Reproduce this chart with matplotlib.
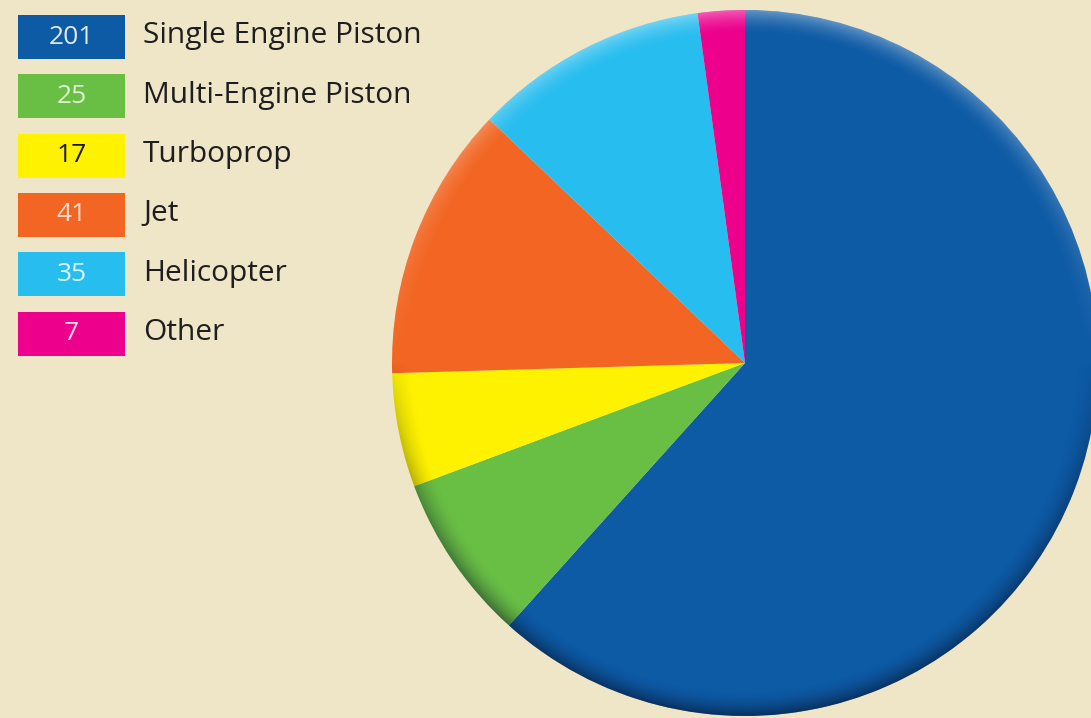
import matplotlib
matplotlib.use("Agg")
import matplotlib.pyplot as plt
from matplotlib.patches import Rectangle, Circle
import numpy as np

categories = ["Single Engine Piston", "Multi-Engine Piston", "Turboprop", "Jet", "Helicopter", "Other"]
values = [201, 25, 17, 41, 35, 7]
colors = ["#0d5aa5", "#69be44", "#fff200", "#f26522", "#28bdef", "#ec008c"]
number_colors = ["#dfe9f5", "#dff2d6", "#1a1a1a", "#fde2d4", "#dff4fc", "#fbd9ec"]

BG = "#efe6c8"
W, H = 1091, 718

fig = plt.figure(figsize=(W / 100, H / 100), dpi=100, facecolor=BG)
ax = fig.add_axes([0, 0, 1, 1])
ax.set_facecolor(BG)

cx, cy, r = 745, H - 363, 353
wedges, _ = ax.pie(values, colors=colors, startangle=90, counterclock=False,
                   center=(cx, cy), radius=r, frame=True,
                   wedgeprops=dict(linewidth=0))

# smooth 3D rim overlay (dark at bottom, lighter at top), clipped to the pie
res = 900
xs = np.linspace(cx - r, cx + r, res)
ys = np.linspace(cy - r, cy + r, res)
X, Y = np.meshgrid(xs, ys)
D = np.hypot(X - cx, Y - cy)
T = np.arctan2(Y - cy, X - cx)
rim = r * 0.07
edge = np.clip((D - (r - rim)) / rim, 0, 1) ** 1.8
S = np.sin(T)
rgba = np.zeros((res, res, 4))
dark = S < 0
rgba[..., :3] = np.where(dark[..., None], np.array([0.02, 0.06, 0.15]), np.array([1.0, 1.0, 1.0]))
alpha = np.where(dark, 0.55 * np.abs(S) ** 0.6, 0.35 * np.abs(S) ** 1.0) * edge
rgba[..., 3] = alpha
im = ax.imshow(rgba, extent=(cx - r, cx + r, cy - r, cy + r), origin="lower",
               interpolation="bilinear", zorder=3)
clip = Circle((cx, cy), r, transform=ax.transData)
im.set_clip_path(clip)

ax.set_xlim(0, W)
ax.set_ylim(0, H)
ax.set_aspect("equal")
ax.axis("off")

# legend
box_x, box_w, box_h = 18, 107, 44
top0, step = 15, 59.3
for i, (cat, val, col, ncol) in enumerate(zip(categories, values, colors, number_colors)):
    ytop = top0 + i * step
    ax.add_patch(Rectangle((box_x, H - ytop - box_h), box_w, box_h, facecolor=col, linewidth=0))
    ax.text(box_x + box_w / 2, H - ytop - box_h / 2, str(val), ha="center", va="center",
            fontsize=19, color=ncol, family="Open Sans")
    ax.text(143, H - ytop - box_h / 2 + 1, cat, ha="left", va="center",
            fontsize=21.5, color="#1e1e1e", family="Open Sans")

fig.savefig("out.png", dpi=100, facecolor=BG)
